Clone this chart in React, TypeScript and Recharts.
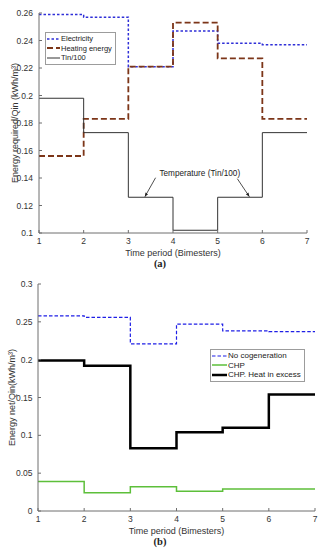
import React from 'react';
import { LineChart, Line, XAxis, YAxis, Legend, ReferenceLine, ReferenceDot } from 'recharts';

// bimester boundaries, each value is held from its period start to the next one
const periods = [1, 2, 3, 4, 5, 6, 7];

// (a) energy required
const electricity = [0.259, 0.257, 0.221, 0.247, 0.238, 0.237];
const heating = [0.156, 0.183, 0.221, 0.253, 0.227, 0.183];
const tin100 = [0.198, 0.173, 0.126, 0.102, 0.126, 0.173];
const ticksA = [0.1, 0.12, 0.14, 0.16, 0.18, 0.2, 0.22, 0.24, 0.26];

// (b) net energy
const noCogen = [0.258, 0.256, 0.221, 0.247, 0.238, 0.237];
const chp = [0.039, 0.024, 0.032, 0.026, 0.029, 0.029];
const chpExcess = [0.199, 0.192, 0.083, 0.104, 0.11, 0.154];
const ticksB = [0, 0.05, 0.1, 0.15, 0.2, 0.25, 0.3];

const FONT = '"Liberation Sans", Arial, sans-serif';
const AXIS = '#6e6e6e';
const TXT = '#333';

const stepRows = (cols: Record<string, number[]>) =>
  periods.map((t, i) => {
    const row: Record<string, number> = { t };
    Object.keys(cols).forEach((k) => {
      row[k] = cols[k][Math.min(i, cols[k].length - 1)];
    });
    return row;
  });

const dataA = stepRows({ elec: electricity, heat: heating, tin: tin100 });
const dataB = stepRows({ none: noCogen, chp: chp, excess: chpExcess });

const seriesA = [
  { key: 'elec', name: 'Electricity', color: '#2f2fd8', width: 1.5, dash: '2.5 2' },
  { key: 'heat', name: 'Heating energy', color: '#7c3518', width: 1.8, dash: '6 3' },
  { key: 'tin', name: 'Tin/100', color: '#333333', width: 1, dash: undefined },
];
const seriesB = [
  { key: 'none', name: 'No cogeneration', color: '#1f1fe6', width: 1.2, dash: '3.5 2' },
  { key: 'chp', name: 'CHP', color: '#5dbf3a', width: 1.5, dash: undefined },
  { key: 'excess', name: 'CHP. Heat in excess', color: '#000000', width: 2.5, dash: undefined },
];

const fmt = (v: number) => String(Number(v.toFixed(2)));

const BottomTick = (p: any) => (
  <g>
    <line x1={p.x} x2={p.x} y1={p.y} y2={p.y - 3} stroke={AXIS} />
    <text x={p.x} y={p.y + 10.5} textAnchor="middle" fontSize={8.5} fill={TXT} fontFamily={FONT}>
      {fmt(p.payload.value)}
    </text>
  </g>
);
const TopTick = (p: any) => <line x1={p.x} x2={p.x} y1={p.y} y2={p.y + 3} stroke={AXIS} />;
const RightTick = (p: any) => <line x1={p.x} x2={p.x - 3} y1={p.y} y2={p.y} stroke={AXIS} />;
const makeLeftTick = (gap: number) => (p: any) => (
  <g>
    <line x1={p.x} x2={p.x + 3} y1={p.y} y2={p.y} stroke={AXIS} />
    <text x={p.x - gap} y={p.y + 3} textAnchor="end" fontSize={8.5} fill={TXT} fontFamily={FONT}>
      {fmt(p.payload.value)}
    </text>
  </g>
);

const YTitle = (p: any) => {
  const vb = p.viewBox || { x: 0, y: 0, width: 0, height: 0 };
  const cx = vb.x + p.dx;
  const cy = vb.y + vb.height / 2;
  return (
    <text x={cx} y={cy} transform={`rotate(-90 ${cx} ${cy})`} textAnchor="middle" fontSize={9} fill={TXT} fontFamily={FONT}>
      {p.text}
    </text>
  );
};
const XTitle = (p: any) => {
  const vb = p.viewBox || { x: 0, y: 0, width: 0, height: 0 };
  return (
    <text x={vb.x + vb.width / 2} y={vb.y + 23} textAnchor="middle" fontSize={9} fill={TXT} fontFamily={FONT}>
      {p.text}
    </text>
  );
};

const LegendBox = ({ items, fontSize, sample }: any) => (
  <div style={{ border: '1px solid #9c9c9c', background: '#fff', padding: '1px 3px 1px 1px', fontFamily: FONT, fontSize }}>
    {items.map((s: any) => (
      <div key={s.key} style={{ display: 'flex', alignItems: 'center', height: 9.5 }}>
        <svg width={sample} height={6}>
          <line x1={0} x2={sample} y1={3} y2={3} stroke={s.color} strokeWidth={s.width} strokeDasharray={s.dash} />
        </svg>
        <span style={{ marginLeft: 1, color: '#222', whiteSpace: 'nowrap' }}>{s.name}</span>
      </div>
    ))}
  </div>
);

const Arrow = (p: any) => (
  <line x1={p.x1} y1={p.y1} x2={p.x2} y2={p.y2} stroke="#222" strokeWidth={0.8} markerEnd="url(#arrowHead)" />
);

const Caption = ({ text, top }: { text: string; top: number }) => (
  <div style={{ position: 'absolute', left: 140, width: 40, top, textAlign: 'center', fontFamily: '"Liberation Serif", serif', fontWeight: 'bold', fontSize: 10.5, color: '#222' }}>
    {text}
  </div>
);

const Frame = ({ domain, ticks, gap, plotLeft, ytitle, ydx }: any) => [
  <XAxis key="xb" xAxisId="b" dataKey="t" type="number" domain={[1, 7]} ticks={periods} height={39}
    tickSize={0} tickMargin={0} tick={BottomTick} axisLine={{ stroke: AXIS }} tickLine={false}
    label={<XTitle text="Time period (Bimesters)" />} />,
  <XAxis key="xt" xAxisId="t" orientation="top" type="number" domain={[1, 7]} ticks={periods} height={0}
    tickSize={0} tickMargin={0} tick={TopTick} axisLine={{ stroke: AXIS }} tickLine={false} />,
  <YAxis key="yl" yAxisId="l" type="number" domain={domain} ticks={ticks} width={plotLeft}
    tickSize={0} tickMargin={0} tick={makeLeftTick(gap)} axisLine={{ stroke: AXIS }} tickLine={false}
    label={<YTitle text={ytitle} dx={ydx} />} />,
  <YAxis key="yr" yAxisId="r" orientation="right" type="number" domain={domain} ticks={ticks} width={0}
    tickSize={0} tickMargin={0} tick={RightTick} axisLine={{ stroke: AXIS }} tickLine={false} />,
];

export default function App() {
  return (
    <div style={{ position: 'absolute', left: 0, top: 0, width: 325, height: 550, background: '#fff', fontFamily: FONT }}>
      <div style={{ position: 'absolute', left: 0, top: 0 }}>
        <LineChart width={325} height={272} data={dataA} margin={{ top: 13, right: 18, left: 0, bottom: 0 }}>
          <defs>
            <marker id="arrowHead" viewBox="0 0 10 10" refX="10" refY="5" markerWidth="5" markerHeight="5" orient="auto">
              <path d="M0,1 L10,5 L0,9 z" fill="#222" />
            </marker>
          </defs>
          {Frame({ domain: [0.1, 0.26], ticks: ticksA, gap: 6, plotLeft: 39, ytitle: 'Energy required/Qin (kWh/m³)', ydx: 18 })}
          {seriesA.map((s) => (
            <Line key={s.key} xAxisId="b" yAxisId="l" type="stepAfter" dataKey={s.key} name={s.name}
              stroke={s.color} strokeWidth={s.width} strokeDasharray={s.dash}
              dot={false} activeDot={false} isAnimationActive={false} />
          ))}
          <ReferenceLine xAxisId="b" yAxisId="l" segment={[{ x: 3.61, y: 0.1402 }, { x: 3.37, y: 0.1264 }]} shape={Arrow} />
          <ReferenceLine xAxisId="b" yAxisId="l" segment={[{ x: 5.44, y: 0.1395 }, { x: 5.71, y: 0.1264 }]} shape={Arrow} />
          <ReferenceDot xAxisId="b" yAxisId="l" x={4.6} y={0.1439} r={0} stroke="none" fill="none"
            label={{ value: 'Temperature (Tin/100)', position: 'center', fontSize: 8.2, fill: '#222', fontFamily: FONT }} />
          <Legend layout="vertical" align="center" verticalAlign="middle"
            wrapperStyle={{ left: 45, top: 32, width: 'auto', height: 'auto' }}
            content={() => <LegendBox items={seriesA} fontSize={7.5} sample={13} />} />
        </LineChart>
        <Caption text="(a)" top={258} />
      </div>
      <div style={{ position: 'absolute', left: 0, top: 272 }}>
        <LineChart width={325} height={278} data={dataB} margin={{ top: 12, right: 10, left: 0, bottom: 0 }}>
          {Frame({ domain: [0, 0.3], ticks: ticksB, gap: 5.5, plotLeft: 38, ytitle: 'Energy net/Qin(kWh/m³)', ydx: 15 })}
          {seriesB.map((s) => (
            <Line key={s.key} xAxisId="b" yAxisId="l" type="stepAfter" dataKey={s.key} name={s.name}
              stroke={s.color} strokeWidth={s.width} strokeDasharray={s.dash}
              dot={false} activeDot={false} isAnimationActive={false} />
          ))}
          <Legend layout="vertical" align="center" verticalAlign="middle"
            wrapperStyle={{ left: 210, top: 77, width: 'auto', height: 'auto' }}
            content={() => <LegendBox items={seriesB} fontSize={8} sample={15} />} />
        </LineChart>
      </div>
      <Caption text="(b)" top={536} />
    </div>
  );
}
